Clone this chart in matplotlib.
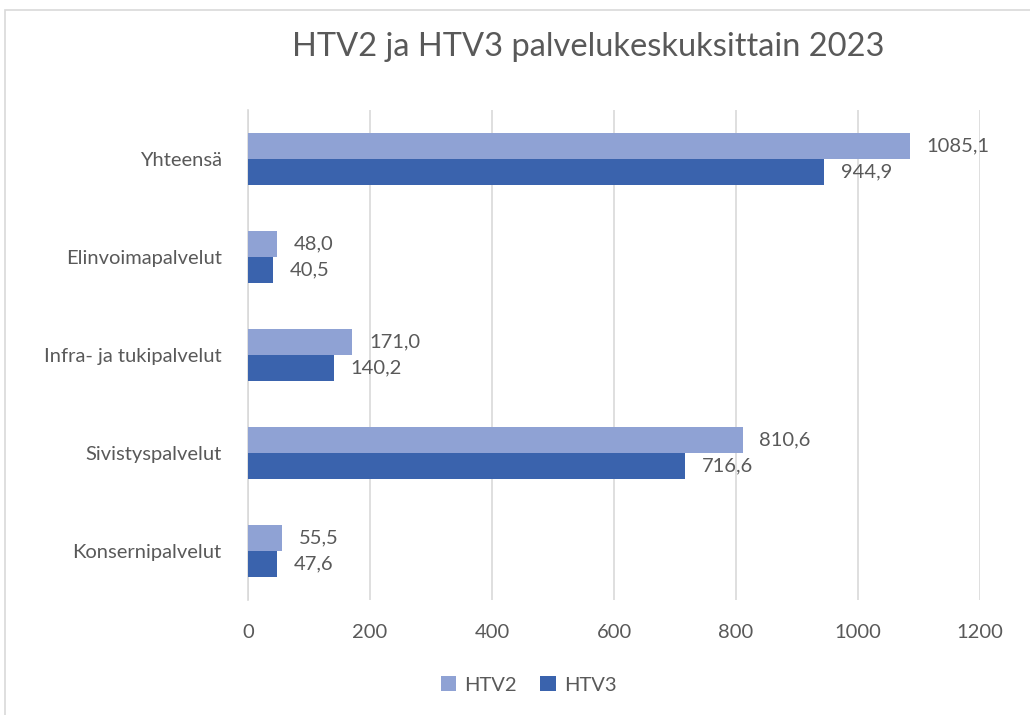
import matplotlib.pyplot as plt
import matplotlib.patches as mpatches
import numpy as np

plt.rcParams['font.family'] = ['Lato', 'DejaVu Sans']

# data (bottom to top as drawn)
categories = ["Konsernipalvelut", "Sivistyspalvelut", "Infra- ja tukipalvelut",
              "Elinvoimapalvelut", "Yhteensä"]
htv2 = [55.5, 810.6, 171.0, 48.0, 1085.1]
htv3 = [47.6, 716.6, 140.2, 40.5, 944.9]

c2 = "#8FA2D4"
c3 = "#3A63AD"
txt = "#595959"

fig = plt.figure(figsize=(10.3, 7.15), dpi=100)
ax = fig.add_axes([0.2408, 0.1608, 0.7107, 0.6852])

y = np.arange(len(categories))
h = 0.265
b2 = ax.barh(y + h / 2, htv2, height=h, color=c2, label="HTV2", zorder=3)
b3 = ax.barh(y - h / 2, htv3, height=h, color=c3, label="HTV3", zorder=3)

fmt = lambda v: f"{v:.1f}".replace(".", ",")
ax.bar_label(b2, labels=[fmt(v) for v in htv2], padding=12, fontsize=14.5, color=txt)
ax.bar_label(b3, labels=[fmt(v) for v in htv3], padding=12, fontsize=14.5, color=txt)

ax.set_xlim(0, 1200)
ax.set_ylim(-0.5, len(categories) - 0.5)
ax.set_xticks(range(0, 1201, 200))
ax.set_yticks(y)
ax.set_yticklabels(categories)
ax.tick_params(axis='both', length=0, labelsize=14.5, labelcolor=txt)
ax.tick_params(axis='x', pad=17)
ax.tick_params(axis='y', pad=19)
ax.grid(axis='x', color="#D9D9D9", linewidth=1.2, zorder=0)
for s in ["top", "right", "bottom"]:
    ax.spines[s].set_visible(False)
ax.spines["left"].set_color("#D9D9D9")
ax.spines["left"].set_linewidth(1.2)

fig.suptitle("HTV2 ja HTV3 palvelukeskuksittain 2023", x=0.571, y=0.955,
             fontsize=23.5, color=txt)

fig.legend(handles=[b2, b3], loc="center", bbox_to_anchor=(0.513, 0.042), ncol=2,
           frameon=False, fontsize=14.5, labelcolor=txt, handlelength=0.75,
           handleheight=0.75, columnspacing=1.2, handletextpad=0.4)

# chart area border
fig.patches.append(mpatches.Rectangle((0.005, -0.05), 1.2, 1.036, transform=fig.transFigure,
                                      fill=False, edgecolor="#D9D9D9", linewidth=1.2))

fig.savefig("out.png", dpi=100)
